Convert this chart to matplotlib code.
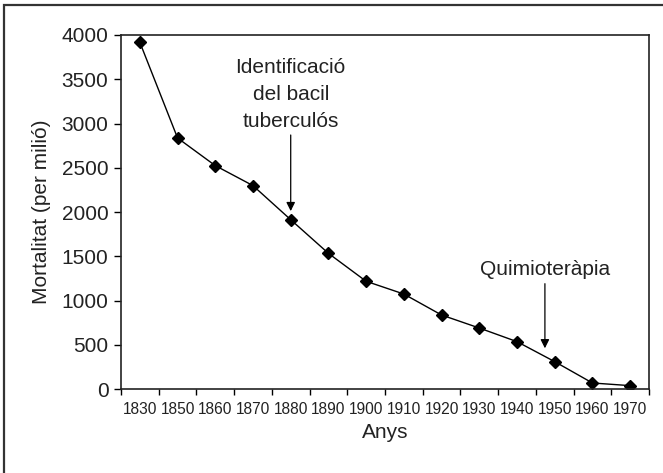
import numpy as np
import matplotlib
matplotlib.use("Agg")
import matplotlib.pyplot as plt
from matplotlib.patches import Rectangle


# -------- DATA --------
years = ["1830", "1850", "1860", "1870", "1880", "1890", "1900",
         "1910", "1920", "1930", "1940", "1950", "1960", "1970"]
mortality = [3917, 2836, 2524, 2298, 1913, 1533, 1217,
             1073, 836, 689, 535, 309, 68, 38]

# annotation anchors (category index, value)
bacil_text = (4.0, 3330)
bacil_arrow = ((4.0, 2870), (4.0, 2010))
quimio_text = (10.74, 1352)
quimio_arrow = ((10.74, 1190), (10.74, 460))

plt.rcParams["font.family"] = ["Liberation Sans", "DejaVu Sans"]
TEXT_COLOR = "#222222"

fig = plt.figure(figsize=(6.63, 4.73), dpi=100)
ax = fig.add_axes([121 / 663, 1 - 389 / 473, (649 - 121) / 663, (389 - 35) / 473])

x = np.arange(len(years))
ax.plot(x, mortality, color="black", lw=1.0, marker="D", ms=6.5,
        markerfacecolor="black", markeredgecolor="black")

ax.set_xlim(-0.5, len(years) - 0.5)
ax.set_ylim(0, 4000)
ax.set_yticks(np.arange(0, 4001, 500))

# labels at category centres, tick marks at boundaries
ax.set_xticks(x)
ax.set_xticklabels(years)
ax.set_xticks(np.arange(len(years) + 1) - 0.5, minor=True)
ax.tick_params(axis="x", which="major", length=0, pad=9, labelsize=11.2,
               labelcolor=TEXT_COLOR)
ax.tick_params(axis="x", which="minor", direction="out", length=4, width=1.0)
ax.tick_params(axis="y", direction="out", length=5, width=1.0, pad=4,
               labelsize=15, labelcolor=TEXT_COLOR)

for s in ax.spines.values():
    s.set_linewidth(1.2)
    s.set_color("#222222")

ax.set_xlabel("Anys", fontsize=15, color=TEXT_COLOR, labelpad=5)
ax.set_ylabel("Mortalitat (per milió)", fontsize=15, color=TEXT_COLOR, labelpad=8)

ax.text(*bacil_text, "Identificació\ndel bacil\ntuberculós", ha="center",
        va="center", fontsize=15, color=TEXT_COLOR, linespacing=1.55)
ax.annotate("", xy=bacil_arrow[1], xytext=bacil_arrow[0],
            arrowprops=dict(arrowstyle="-|>", color="black", lw=0.9,
                            mutation_scale=13, shrinkA=0, shrinkB=0))
ax.text(*quimio_text, "Quimioteràpia", ha="center", va="center",
        fontsize=15, color=TEXT_COLOR)
ax.annotate("", xy=quimio_arrow[1], xytext=quimio_arrow[0],
            arrowprops=dict(arrowstyle="-|>", color="black", lw=0.9,
                            mutation_scale=13, shrinkA=0, shrinkB=0))

# outer frame around the figure (bottom runs off the image)
fig.patches.append(Rectangle((3.5 / 663, -0.1), 1.2, 1.1 - 5 / 473,
                             transform=fig.transFigure, fill=False,
                             edgecolor="#333333", lw=1.6))

fig.savefig("out.png", dpi=100)
